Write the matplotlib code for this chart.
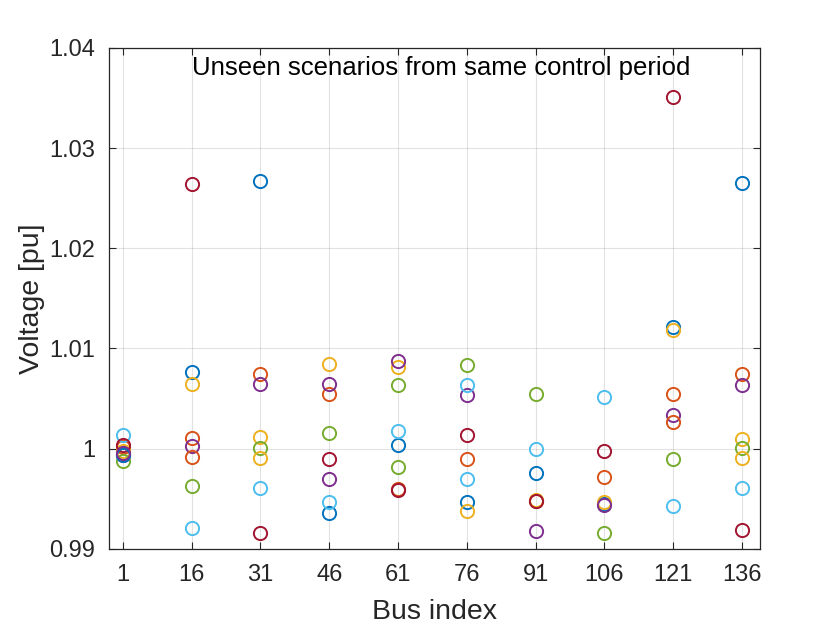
import numpy as np
import matplotlib
matplotlib.use("Agg")
import matplotlib.pyplot as plt

plt.rcParams['font.family'] = ['Liberation Sans', 'DejaVu Sans']

# bus indices on x axis
buses = [1, 16, 31, 46, 61, 76, 91, 106, 121, 136]

nan = np.nan
# voltage [pu] per scenario at each bus (scenarios 1..13, nan = not shown)
s1 = [0.9996, 1.0076, 1.0267, 0.9936, 1.0004, 0.9947, 0.9976, 0.9945, 1.0121, 1.0265]
s2 = [1.0002, 1.0011, 1.0074, 1.0054, 0.9960, 0.9990, 0.9948, 0.9972, 1.0054, 1.0074]
s3 = [0.9998, 1.0064, 1.0012, 1.0084, 1.0081, 0.9938, 0.9949, 0.9947, 1.0118, 1.0010]
s4 = [0.9994, 1.0003, 1.0064, 1.0064, 1.0087, 1.0053, 0.9918, 0.9944, 1.0034, 1.0063]
s5 = [0.9988, 0.9963, 1.0001, 1.0016, 1.0063, 1.0083, 1.0054, 0.9916, 0.9990, 1.0001]
s6 = [1.0014, 0.9921, 0.9961, 0.9947, 1.0018, 1.0063, 1.0000, 1.0051, 0.9943, 0.9961]
s7 = [1.0004, 1.0264, 0.9916, 0.9990, 0.9959, 1.0014, 0.9948, 0.9998, 1.0351, 0.9919]
s8 = [0.9994, nan, nan, nan, nan, nan, nan, nan, nan, nan]
s9 = [nan, 0.9992, nan, nan, nan, nan, nan, nan, 1.0027, nan]
s10 = [nan, nan, 0.9991, nan, nan, nan, nan, nan, nan, 0.9991]
s11 = [0.9996, nan, nan, 0.9970, nan, nan, nan, nan, nan, nan]
s12 = [nan, nan, nan, nan, 0.9982, nan, nan, nan, nan, nan]
s13 = [nan, nan, nan, nan, nan, 0.9970, nan, nan, nan, nan]
scen = [s1, s2, s3, s4, s5, s6, s7, s8, s9, s10, s11, s12, s13]

# matlab default color order
cols = ['#0072BD', '#D95319', '#EDB120', '#7E2F8E', '#77AC30', '#4DBEEE', '#A2142F']

fig = plt.figure(figsize=(8.4, 6.3), dpi=100)
ax = fig.add_axes([0.130, 0.129, 0.775, 0.795])

for k, s in enumerate(scen):
    ax.plot(buses, s, 'o', mfc='none', mec=cols[k % 7], ms=9.5, mew=1.4, ls='none')

ax.set_xlim(-2, 140)
ax.set_ylim(0.99, 1.04)
ax.set_xticks(buses)
ax.set_yticks([0.99, 1.0, 1.01, 1.02, 1.03, 1.04])
ax.set_yticklabels(['0.99', '1', '1.01', '1.02', '1.03', '1.04'])
ax.grid(True, color='#262626', alpha=0.13, lw=0.8)
ax.set_axisbelow(True)
ax.tick_params(direction='in', top=True, right=True, labelsize=17, length=5,
               colors='#262626')
ax.tick_params(axis='x', pad=11)
ax.tick_params(axis='y', pad=10)
for sp in ax.spines.values():
    sp.set_color('#262626')
    sp.set_linewidth(0.9)

ax.set_xlabel('Bus index', fontsize=20.5, color='#262626', labelpad=9)
ax.set_ylabel('Voltage [pu]', fontsize=20.5, color='#262626', labelpad=3)
ax.text(0.51, 0.96, 'Unseen scenarios from same control period', transform=ax.transAxes,
        ha='center', va='center', fontsize=18.5, color='black')

fig.savefig('out.png', dpi=100)
